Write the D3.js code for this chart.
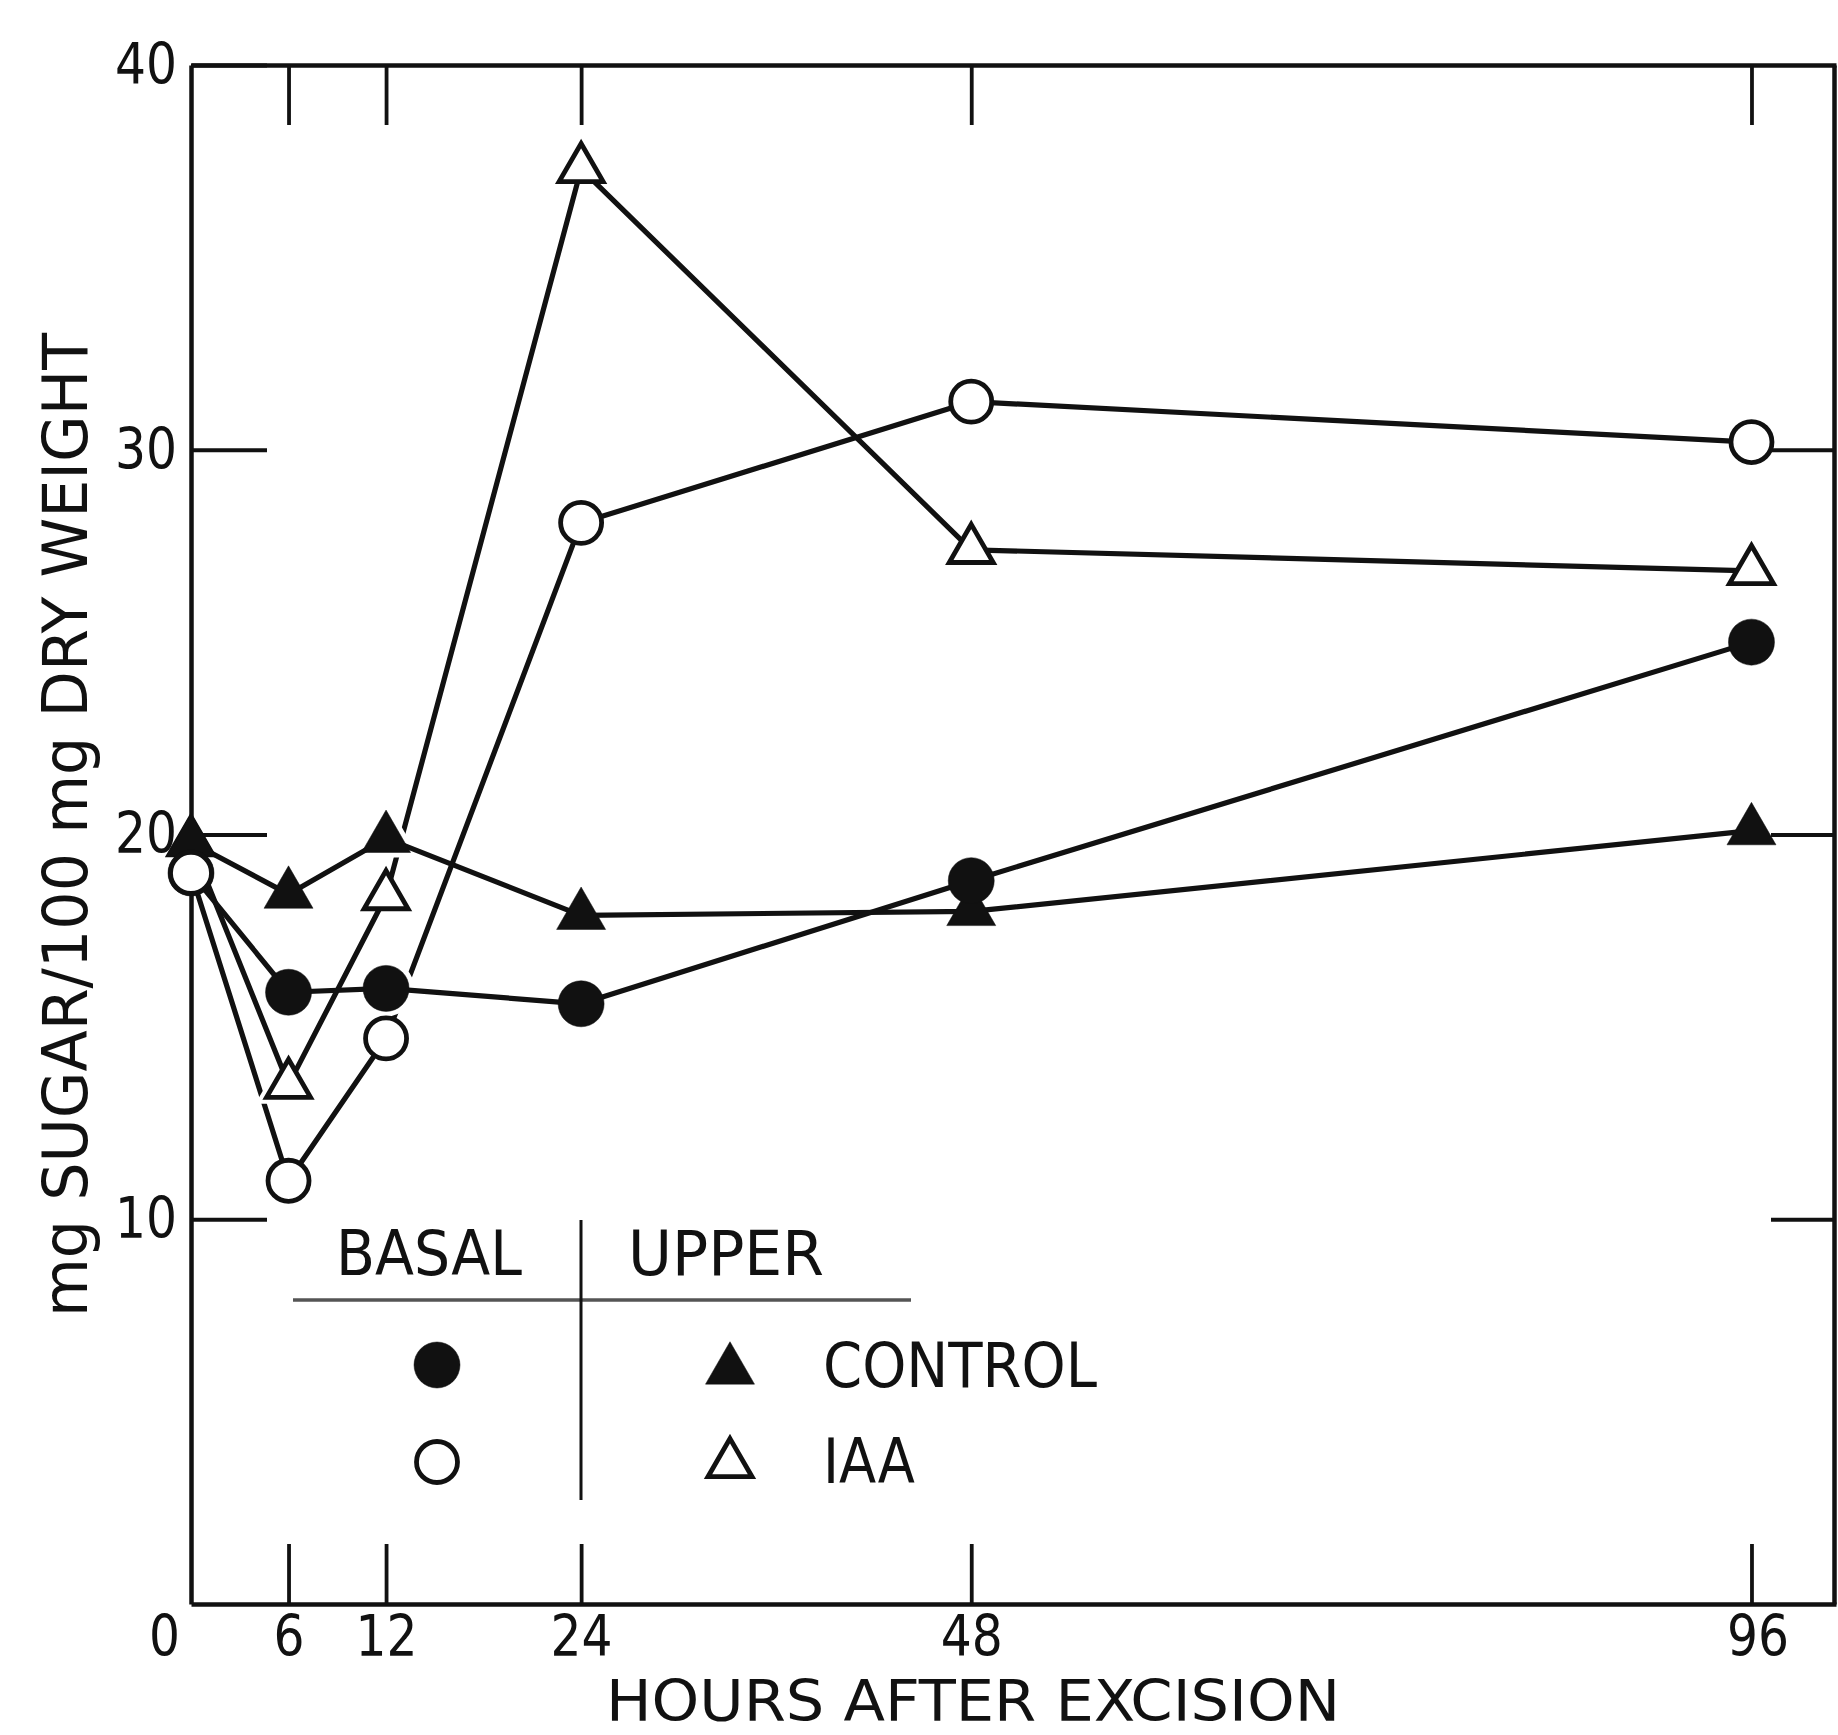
<!DOCTYPE html>
<html>
<head>
<meta charset="utf-8">
<script src="https://cdn.jsdelivr.net/npm/d3@7"></script>
<style>
  html, body { margin: 0; padding: 0; background: #fff; }
  svg { display: block; }
  text { font-family: "Liberation Sans Narrow", "DejaVu Sans Condensed", "Liberation Sans", sans-serif; fill: #111; }
</style>
</head>
<body>
<svg id="chart" width="1838" height="1735"></svg>
<script>
// Sampling times (hours after excision)
const hours = [0, 6, 12, 24, 48, 96];

// mg sugar / 100 mg dry weight
const basalControl = [19.0, 15.9, 16.0, 15.6, 18.8, 25.0];
const basalIAA     = [19.0, 11.0, 14.7, 28.1, 31.25, 30.2];
const upperControl = [19.8, 18.45, 19.9, 17.9, 18.0, 20.1];
const upperIAA     = [19.8, 13.5, 18.4, 37.3, 27.4, 26.85];

const xTickValues = [0, 6, 12, 24, 48, 96];
const xInnerTicks = [6, 12, 24, 48, 96];
const yTickValues = [10, 20, 30, 40];
const yInnerTicks = [10, 20, 30];

const xTitle = "HOURS AFTER EXCISION";
const yTitle = "mg SUGAR/100 mg DRY WEIGHT";
const tissueLabels = ["BASAL", "UPPER"];
const treatmentLabels = ["CONTROL", "IAA"];

const W = 1838, H = 1735;
const margin = { top: 65, right: 2, bottom: 131, left: 191 };
const ink = "#111";
const fontSize = 62;
const tickFontSize = 57;
const digitWidth = 31;

const x = d3.scaleLinear().domain([0, 101.2]).range([margin.left, W - margin.right]);
const y = d3.scaleLinear().domain([0, 40]).range([H - margin.bottom, margin.top]);

const svg = d3.select("#chart");

// Series definitions: shape and fill style
const series = [
  { key: "upperIAA",     values: upperIAA,     shape: "triangle", filled: false },
  { key: "upperControl", values: upperControl, shape: "triangle", filled: true  },
  { key: "basalControl", values: basalControl, shape: "circle",   filled: true  },
  { key: "basalIAA",     values: basalIAA,     shape: "circle",   filled: false }
];

function markerPath(shape, filled) {
  if (shape === "circle") {
    const r = filled ? 23 : 20.5;
    return d3.symbol(d3.symbolCircle, Math.PI * r * r)();
  }
  const side = filled ? 49 : 44;
  return d3.symbol(d3.symbolTriangle, Math.sqrt(3) / 4 * side * side)();
}

function styleMarker(sel, s) {
  sel.attr("d", markerPath(s.shape, s.filled))
    .attr("fill", s.filled ? ink : "#fff")
    .attr("stroke", ink)
    .attr("stroke-width", s.filled ? 0.5 : 4.8)
    .attr("stroke-linejoin", "miter");
}

// ---- Frame and axes ----
function styleAxis(g) {
  g.attr("font-size", null).attr("font-family", null);
  g.select(".domain").attr("stroke", ink).attr("stroke-width", 4.5);
  g.selectAll(".tick line").attr("stroke", ink).attr("stroke-width", 3.8);
  g.selectAll(".tick text")
    .attr("fill", ink)
    .attr("font-size", tickFontSize)
    .attr("textLength", d => String(d).length * digitWidth)
    .attr("lengthAdjust", "spacingAndGlyphs");
}

const gBottom = svg.append("g")
  .attr("transform", `translate(0,${y(0)})`)
  .call(d3.axisBottom(x).tickValues(xTickValues).tickSizeInner(-60).tickSizeOuter(0)
    .tickPadding(12).tickFormat(d3.format("d")))
  .call(styleAxis);
gBottom.selectAll(".tick").filter(d => d === 0).select("line").remove();
gBottom.selectAll(".tick text").filter(d => d === 0).attr("dx", -27);
gBottom.selectAll(".tick text").filter(d => d === 96).attr("dx", 6);

svg.append("g")
  .attr("transform", `translate(0,${y(40)})`)
  .call(d3.axisTop(x).tickValues(xInnerTicks).tickSizeInner(-60).tickSizeOuter(0).tickFormat(() => ""))
  .call(styleAxis);

svg.append("g")
  .attr("transform", `translate(${x(0)},0)`)
  .call(d3.axisLeft(y).tickValues(yTickValues).tickSizeInner(-76).tickSizeOuter(0)
    .tickPadding(14).tickFormat(d3.format("d")))
  .call(styleAxis);

svg.append("g")
  .attr("transform", `translate(${x(101.2) - 2},0)`)
  .call(d3.axisRight(y).tickValues(yInnerTicks).tickSizeInner(-63).tickSizeOuter(0).tickFormat(() => ""))
  .call(styleAxis);

// Axis titles
svg.append("text")
  .attr("x", 606).attr("y", 1721)
  .attr("font-size", 57)
  .attr("textLength", 734).attr("lengthAdjust", "spacingAndGlyphs")
  .text(xTitle);

svg.append("text")
  .attr("transform", "translate(87,825) rotate(-90)")
  .attr("text-anchor", "middle")
  .attr("font-size", fontSize)
  .attr("textLength", 984).attr("lengthAdjust", "spacingAndGlyphs")
  .text(yTitle);

// ---- Series lines, broken where they pass behind other series' markers ----
const defs = svg.append("defs");
const halo = 5;
series.forEach((s, i) => {
  const m = defs.append("mask").attr("id", `gap-${s.key}`)
    .attr("maskUnits", "userSpaceOnUse")
    .attr("x", 0).attr("y", 0).attr("width", W).attr("height", H);
  m.append("rect").attr("width", W).attr("height", H).attr("fill", "#fff");
  series.forEach((o, j) => {
    if (j === i) return;
    o.values.forEach((v, k) => {
      if (k === 0) return; // the shared starting cluster stays joined
      m.append("path")
        .attr("transform", `translate(${x(hours[k])},${y(v)})`)
        .attr("d", markerPath(o.shape, true))
        .attr("fill", "#000").attr("stroke", "#000")
        .attr("stroke-width", halo * 2);
    });
  });
});

const line = d3.line().x(d => x(d[0])).y(d => y(d[1]));
series.forEach(s => {
  svg.append("path")
    .datum(hours.map((h, k) => [h, s.values[k]]))
    .attr("d", line)
    .attr("fill", "none")
    .attr("stroke", ink)
    .attr("stroke-width", 5.2)
    .attr("stroke-linejoin", "round")
    .attr("mask", `url(#gap-${s.key})`);
});

// ---- Markers ----
series.forEach(s => {
  svg.append("g").selectAll("path")
    .data(hours.map((h, k) => [h, s.values[k]]))
    .join("path")
    .attr("transform", d => `translate(${x(d[0])},${y(d[1])})`)
    .call(sel => styleMarker(sel, s));
});

// ---- Legend table ----
const lg = svg.append("g");
lg.append("line").attr("x1", 293).attr("x2", 911).attr("y1", 1300).attr("y2", 1300)
  .attr("stroke", "#555").attr("stroke-width", 3.5);
lg.append("line").attr("x1", 581).attr("x2", 581).attr("y1", 1220).attr("y2", 1500)
  .attr("stroke", ink).attr("stroke-width", 3);

lg.append("text").attr("x", 336).attr("y", 1275).attr("font-size", fontSize)
  .attr("textLength", 186).attr("lengthAdjust", "spacingAndGlyphs").text(tissueLabels[0]);
lg.append("text").attr("x", 628).attr("y", 1275).attr("font-size", fontSize)
  .attr("textLength", 196).attr("lengthAdjust", "spacingAndGlyphs").text(tissueLabels[1]);
lg.append("text").attr("x", 823).attr("y", 1387).attr("font-size", fontSize)
  .attr("textLength", 274).attr("lengthAdjust", "spacingAndGlyphs").text(treatmentLabels[0]);
lg.append("text").attr("x", 823).attr("y", 1483).attr("font-size", fontSize)
  .attr("textLength", 92).attr("lengthAdjust", "spacingAndGlyphs").text(treatmentLabels[1]);

const legendMarks = [
  { s: series[2], cx: 437, cy: 1365 },
  { s: series[3], cx: 437, cy: 1462 },
  { s: series[1], cx: 730, cy: 1370 },
  { s: series[0], cx: 730, cy: 1464 }
];
legendMarks.forEach(lm => {
  lg.append("path")
    .attr("transform", `translate(${lm.cx},${lm.cy})`)
    .call(sel => styleMarker(sel, lm.s));
});
</script>
</body>
</html>
